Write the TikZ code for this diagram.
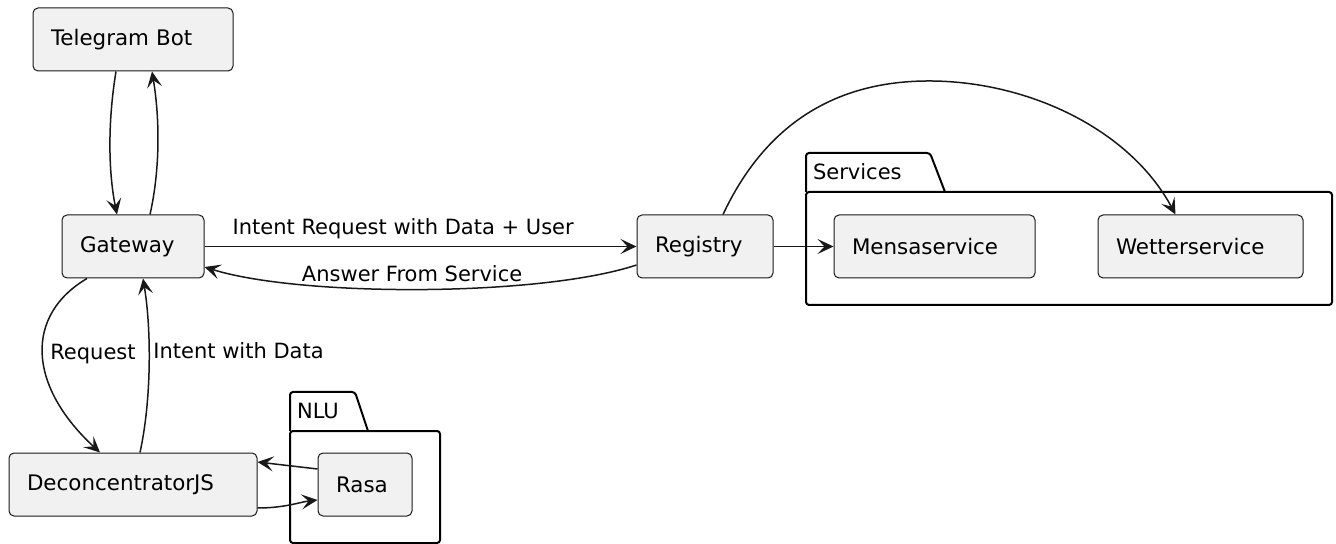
\documentclass[tikz,border=0pt]{standalone}
\usepackage{fontspec}
\setmainfont{DejaVu Sans}
\usetikzlibrary{calc}
\usetikzlibrary{arrows.meta}
\definecolor{boxfill}{HTML}{F1F1F1}
\definecolor{boxline}{HTML}{181818}
\tikzset{
	comp/.style={draw=boxline, line width=0.5pt, fill=boxfill, rounded corners=2.5pt,
		minimum height=31.5pt, inner xsep=9pt, inner ysep=0pt, align=left,
		font=\fontsize{10.7pt}{12.8pt}\selectfont},
	flow/.style={draw=boxline, line width=0.75pt, -{Stealth[length=8pt,width=7.5pt,inset=3.5pt]}},
	lbl/.style={font=\fontsize{10.5pt}{12.6pt}\selectfont, text=black},
	pkg/.style={draw=black, line width=1pt, rounded corners=1.5pt},
}

\begin{document}
\begin{tikzpicture}[x=0.5pt,y=-0.5pt]
	\useasboundingbox (0,0) rectangle (1336,544);

	% packages
	\draw [pkg] (806,192) -- (806,153) -- (930,153) -- (945,192);
	\draw [pkg] (806,192) rectangle (1332,305);
	\node [lbl, anchor=west] (svc) at (806,172) {Services};
	\draw [pkg] (290,431) -- (290,392) -- (355,392) -- (368,431);
	\draw [pkg] (290,431) rectangle (440,543);
	\node [lbl, anchor=west] (nlu) at (290,411) {NLU};

	% components
	\node [comp, text width=82pt] (tg) at (133,39.5) {Telegram Bot};
	\node [comp, text width=53pt] (gw) at (133,246.5) {Gateway};
	\node [comp, text width=50pt] (reg) at (705,246.5) {Registry};
	\node [comp, text width=82.5pt] (mensa) at (934.5,246.5) {Mensaservice};
	\node [comp, text width=84.5pt] (wetter) at (1200.5,246.5) {Wetterservice};
	\node [comp, text width=106pt] (dec) at (133,484.5) {DeconcentratorJS};
	\node [comp, text width=29pt] (rasa) at (365,484.5) {Rasa};

	% connectors
	\draw [flow] ($(tg.south)+(-17,0)$) .. controls (108,120) and (108,170) .. ($(gw.north)+(-16,0)$);
	\draw [flow] ($(gw.north)+(17,0)$) .. controls (160,170) and (160,120) .. ($(tg.south)+(19,0)$);
	\draw [flow] (gw.east) -- node [lbl, pos=0.46, above] (lreq) {Intent Request with Data + User} (reg.west);
	\draw [flow] ($(reg.west)+(0,18.5)$) .. controls (540,297) and (300,297) ..
		node [lbl, above, xshift=-4pt] (lans) {Answer From Service} ($(gw.east)+(0,20.5)$);
	\draw [flow] (reg.east) -- (mensa.west);
	\draw [flow] ($(reg.north)+(18,0)$) .. controls (765,125) and (835,80) .. (932,81)
		.. controls (1030,82) and (1130,130) .. ($(wetter.north)+(-25,0)$);
	\draw [flow] ($(gw.south)+(-46,0)$) .. controls (25,315) and (27,385) ..
		node [lbl, right] (lreq2) {Request} ($(dec.north)+(-33,0)$);
	\draw [flow] ($(dec.north)+(7,0)$) .. controls (151.5,400) and (151.5,330) ..
		node [lbl, pos=0.58, right, xshift=-1.5pt] (lint) {Intent with Data} ($(gw.south)+(10,0)$);
	\draw [flow] ($(rasa.west)+(0,-15.5)$) -- ($(dec.east)+(0,-22.5)$);
	\draw [flow] ($(dec.east)+(0,23.5)$) .. controls (285,508) and (300,502) .. ($(rasa.west)+(0,15.5)$);
\end{tikzpicture}
\end{document}
